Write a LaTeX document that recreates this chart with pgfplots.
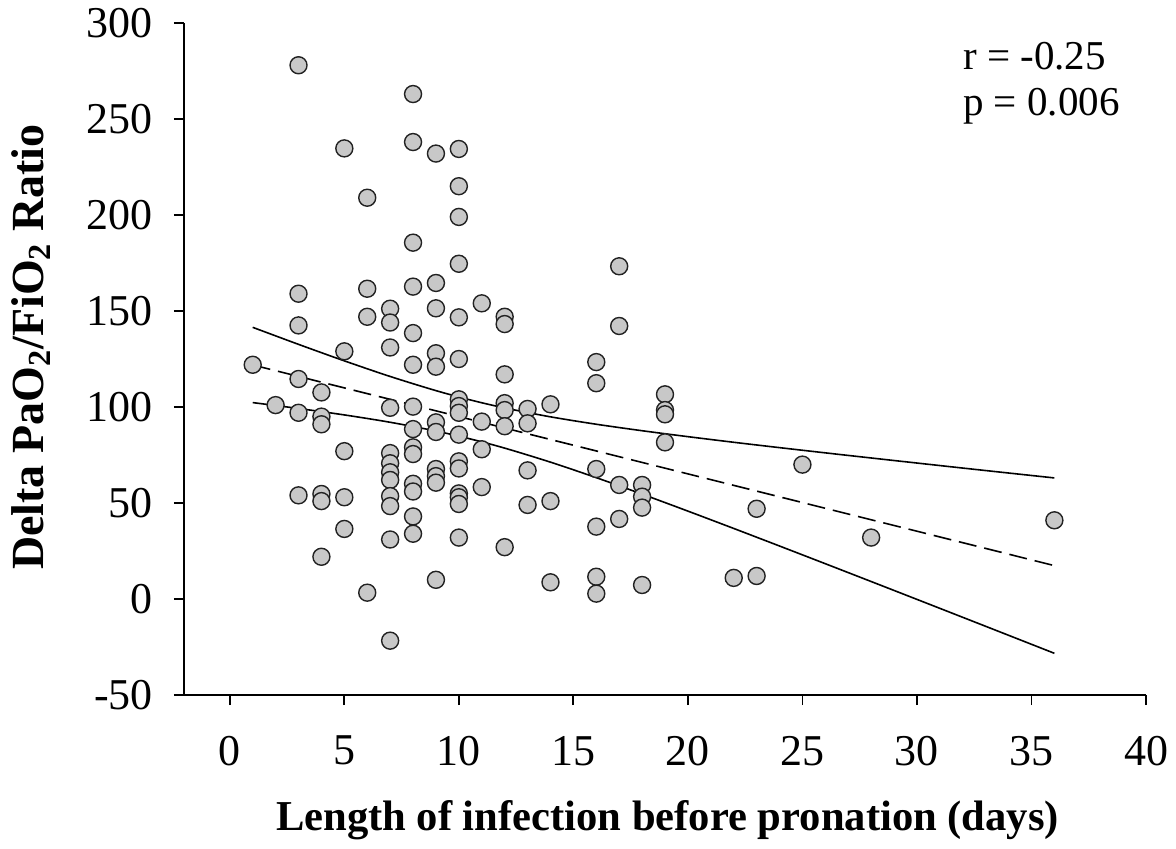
\documentclass[border=0pt]{standalone}
\usepackage{pgfplots}
\pgfplotsset{compat=1.18}
\usepackage{fontspec}
\setmainfont{Liberation Serif}
\definecolor{ptfill}{HTML}{C8C8C8}
\definecolor{ptedge}{HTML}{222222}
\begin{document}
\begin{tikzpicture}
\begin{axis}[
  at={(0,0)}, anchor=south west,
  scale only axis, width=481pt, height=336pt,
  xmin=-2, xmax=40, ymin=-50, ymax=300,
  axis x line*=bottom, axis y line*=left,
  axis line style={line width=0.9pt, black, -},
  xtick={0,5,...,40}, ytick={-50,0,...,300},
  tick align=outside, tick style={line width=0.9pt, black}, major tick length=5pt,
  /pgf/number format/assume math mode=true,
  ticklabel style={font=\fontsize{22}{26}\selectfont},
  xticklabel style={yshift=-12pt},
  yticklabel style={xshift=-7pt},
  clip=false,
]
\addplot[only marks, mark=*, mark size=4.25pt, mark options={fill=ptfill, draw=ptedge, line width=0.7pt}] table {
x y
1 122
2 101
3 278
3 159
3 142.5
3 114.6
3 97
3 54
4 107.6
4 95
4 91
4 54.7
4 51
4 22
5 234.7
5 129
5 77
5 53
5 36.5
6 209
6 161.6
6 147
6 3.3
7 151.2
7 144
7 131
7 99.6
7 76
7 70.7
7 66
7 62
7 53.6
7 48.4
7 31
7 -21.7
8 263
8 238
8 185.6
8 162.7
8 138.5
8 122
8 100.2
8 88.5
8 79
8 75.5
8 60
8 56
8 43
8 34
9 232
9 164.6
9 151.4
9 128
9 121
9 92
9 87
9 67.7
9 64
9 60.6
9 10
10 234.4
10 215
10 199
10 174.6
10 146.7
10 125
10 104
10 100.5
10 97
10 85.6
10 71.7
10 68
10 55
10 53
10 49.5
10 32
11 154
11 92.4
11 78
11 58.3
12 147
12 143.2
12 117
12 102
12 98.4
12 90
12 27
13 99
13 91.5
13 67
13 49
14 101.4
14 51
14 8.7
16 123.4
16 112.4
16 67.7
16 37.7
16 11.6
16 2.8
17 173.3
17 142.2
17 59.4
17 41.7
18 59.4
18 53.3
18 47.6
18 7.3
19 106.6
19 98.4
19 96.2
19 81.6
22 11
23 47
23 12
25 70
28 32
36 41
};
% regression line
\addplot[black, line width=0.8pt, dash pattern=on 9pt off 4pt] coordinates {(1,121.9) (36,17.39)};
% upper 95% CI
\addplot[black, line width=0.8pt, smooth] coordinates {
(1,141.50) (3,132.63) (5,124.04) (7,115.91) (9,108.53) (10.57,103.48) (12,99.51) (14,94.88) (16,91.02) (18,87.65) (20,84.56) (22,81.63) (24,78.84) (26,76.12) (28,73.45) (30,70.82) (32,68.20) (34,65.62) (36,63.06)};
% lower 95% CI
\addplot[black, line width=0.8pt, smooth] coordinates {
(1,102.30) (3,99.23) (5,95.88) (7,92.05) (9,87.49) (10.57,83.16) (12,78.59) (14,71.28) (16,63.20) (18,54.63) (20,45.78) (22,36.75) (24,27.60) (26,18.38) (28,9.11) (30,-0.20) (32,-9.54) (34,-18.90) (36,-28.28)};
\node[anchor=north west, align=left, inner sep=0pt, font=\fontsize{20.5}{23}\selectfont] at (axis cs:32,290) {r = -0.25\\p = 0.006};
\end{axis}
\node[font=\fontsize{21.3}{24}\selectfont\bfseries] at (241.75pt,-62.5pt) {Length of infection before pronation (days)};
\node[rotate=90, font=\fontsize{23}{26}\selectfont\bfseries] at (-76.5pt,174pt) {Delta PaO\textsubscript{2}/FiO\textsubscript{2} Ratio};
\pgfresetboundingbox
\useasboundingbox (-92pt,-76.5pt) rectangle (496pt,347.5pt);
\end{tikzpicture}
\end{document}
